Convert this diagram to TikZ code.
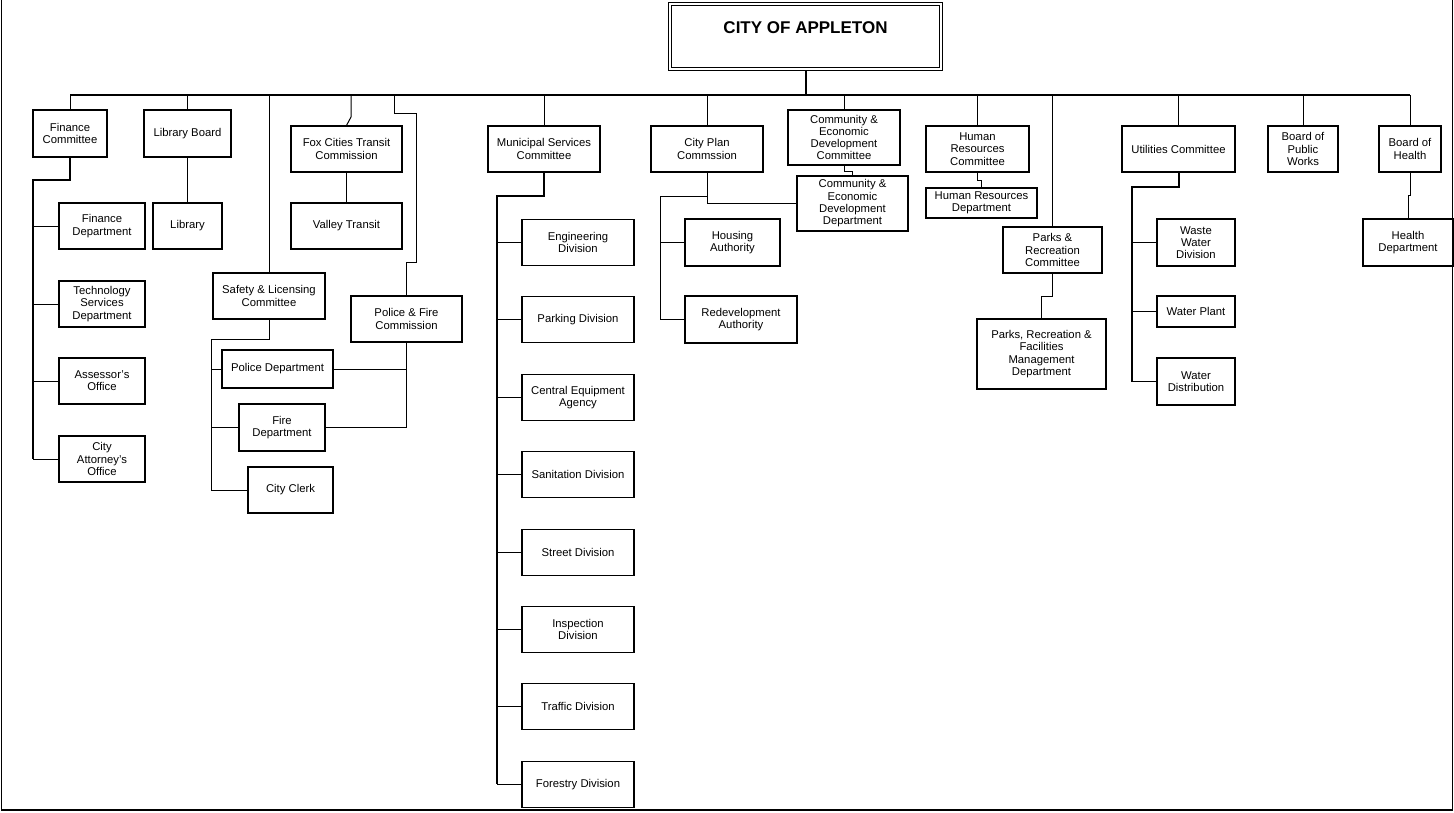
\documentclass[tikz,border=0pt]{standalone}
\usepackage{fontspec}
\setmainfont{Liberation Sans}
\tikzset{
  unit/.style={draw,line width=1.1pt,align=center,inner sep=1pt,
    font=\fontsize{11.3}{12.3}\selectfont},
  boxsize/.style 2 args={minimum width=#1pt,minimum height=#2pt},
  link/.style={line width=1pt},
  trunk/.style={line width=2pt},
}

\begin{document}
\begin{tikzpicture}[x=1pt,y=-1pt]
    \useasboundingbox (0,0) rectangle (1454,812);
    \draw[line width=1.5pt] (1.5,0) -- (1.5,810) -- (1452.5,810) -- (1452.5,0);

    % Head of the chart and the common bus.
    \node[draw,line width=1pt,minimum width=274pt,minimum height=68pt,
        inner sep=0pt,text height=12pt,text depth=18pt,
        font=\fontsize{17}{17}\selectfont\bfseries]
        (city) at (805.5,36.5) {CITY OF APPLETON};
    \draw[line width=1pt] ([shift={(3.5,3.5)}]city.north west)
        rectangle ([shift={(-3.5,-3.5)}]city.south east);
    \coordinate (busw) at (70,95);
    \coordinate (buse) at (1410,95);
    \draw[trunk] (busw) -- (buse);
    \draw[trunk] (city.south) -- (city.south |- busw);

    % Finance and library.
    \node[unit,boxsize={74}{47}] (fincom) at (70,133.5) {Finance\\Committee};
    \node[unit,boxsize={86}{46}] (findept) at (102,226) {Finance\\Department};
    \node[unit,boxsize={86}{46}] (techserv) at (102,304) {Technology\\Services\\Department};
    \node[unit,boxsize={86}{46}] (assessor) at (102,381) {Assessor's\\Office};
    \node[unit,boxsize={86}{46}] (attorney) at (102,459) {City\\Attorney's\\Office};
    \node[unit,boxsize={87}{47}] (libboard) at (187.5,133.5) {Library Board};
    \node[unit,boxsize={69}{46}] (library) at (187.5,226) {Library};

    \draw[link] (fincom.north |- busw) -- (fincom.north);
    \coordinate (finx) at (33,180);
    \draw[trunk] (fincom.south) |- (finx) -- (finx |- attorney.west);
    \draw[link] (finx |- findept.west) -- (findept.west);
    \draw[link] (finx |- techserv.west) -- (techserv.west);
    \draw[link] (finx |- assessor.west) -- (assessor.west);
    \draw[link] (finx |- attorney.west) -- (attorney.west);
    \draw[link] (libboard.north |- busw) -- (libboard.north);
    \draw[link] (libboard.south) -- (library.north);

    % Transit, safety, police and fire.
    \node[unit,boxsize={111}{46}] (fox) at (346.5,149) {Fox Cities Transit\\Commission};
    \node[unit,boxsize={111}{46}] (valley) at (346.5,226) {Valley Transit};
    \node[unit,boxsize={112}{46}] (safety) at (269,296) {Safety \& Licensing\\Committee};
    \node[unit,boxsize={111}{46}] (pfc) at (406.5,319) {Police \& Fire\\Commission};
    \node[unit,boxsize={111}{38}] (policedept) at (277.5,369) {Police Department};
    \node[unit,boxsize={86}{47}] (firedept) at (282,427.5) {Fire\\Department};
    \node[unit,boxsize={85}{46}] (clerk) at (290.5,490) {City Clerk};

    \coordinate (foxtap) at (351,95);
    \draw[link] (foxtap) -- ++(0,22) -- (fox.north);
    \draw[link] (fox.south) -- (valley.north);
    \draw[link] (safety.north |- busw) -- (safety.north);
    \coordinate (safex) at (211,339);
    \draw[link] (safety.south) |- (safex) -- (safex |- clerk.west) -- (clerk.west);
    \draw[link] (safex |- policedept.west) -- (policedept.west);
    \draw[link] (safex |- firedept.west) -- (firedept.west);
    \coordinate (pfctap) at (394,95);
    \draw[link] (pfctap) |- ++(22,18) -- ++(0,149) -| (pfc.north);
    \draw[link] (pfc.south) |- (firedept.east);
    \draw[link] (pfc.south |- policedept.east) -- (policedept.east);

    % Municipal services.
    \node[unit,boxsize={112}{46}] (muni) at (544,149) {Municipal Services\\Committee};
    \node[unit,boxsize={112}{46}] (engineering) at (578,242.5) {Engineering\\Division};
    \node[unit,boxsize={112}{46}] (parking) at (578,319.9) {Parking Division};
    \node[unit,boxsize={112}{46}] (equipment) at (578,397.3) {Central Equipment\\Agency};
    \node[unit,boxsize={112}{46}] (sanitation) at (578,474.7) {Sanitation Division};
    \node[unit,boxsize={112}{46}] (street) at (578,552.1) {Street Division};
    \node[unit,boxsize={112}{46}] (inspection) at (578,629.5) {Inspection\\Division};
    \node[unit,boxsize={112}{46}] (traffic) at (578,706.9) {Traffic Division};
    \node[unit,boxsize={112}{46}] (forestry) at (578,784.3) {Forestry Division};

    \draw[link] (muni.north |- busw) -- (muni.north);
    \coordinate (munix) at (497,196);
    \draw[trunk] (muni.south) |- (munix) -- (munix |- forestry.west);
    \draw[link] (munix |- engineering.west) -- (engineering.west);
    \draw[link] (munix |- parking.west) -- (parking.west);
    \draw[link] (munix |- equipment.west) -- (equipment.west);
    \draw[link] (munix |- sanitation.west) -- (sanitation.west);
    \draw[link] (munix |- street.west) -- (street.west);
    \draw[link] (munix |- inspection.west) -- (inspection.west);
    \draw[link] (munix |- traffic.west) -- (traffic.west);
    \draw[link] (munix |- forestry.west) -- (forestry.west);

    % City plan and community development.
    \node[unit,boxsize={112}{46}] (cpc) at (707,149) {City Plan\\Commssion};
    \node[unit,boxsize={95}{47}] (housing) at (732.5,242.5) {Housing\\Authority};
    \node[unit,boxsize={112}{47}] (redev) at (741,319.5) {Redevelopment\\Authority};
    \node[unit,boxsize={112}{55}] (cedcom) at (844,137.5)
        {Community \&\\Economic\\Development\\Committee};
    \node[unit,boxsize={111}{55}] (ceddept) at (852.5,203.5)
        {Community \&\\Economic\\Development\\Department};

    \draw[link] (cpc.north |- busw) -- (cpc.north);
    \draw[link] (cpc.south) |- (ceddept.west);
    \coordinate (cpcx) at (660,196);
    \draw[link] (cpc.south |- cpcx) -- (cpcx) -- (cpcx |- redev.west) -- (redev.west);
    \draw[link] (cpcx |- housing.west) -- (housing.west);
    \draw[link] (cedcom.north |- busw) -- (cedcom.north);
    \draw[link] (cedcom.south) -- ++(0,6) -| (ceddept.north);

    % Human resources and parks.
    \node[unit,boxsize={103}{46}] (hrcom) at (977.5,149) {Human\\Resources\\Committee};
    \node[unit,boxsize={111}{30}] (hrdept) at (981.5,203) {Human Resources\\Department};
    \node[unit,boxsize={99}{46}] (parkscom) at (1052.5,250) {Parks \&\\Recreation\\Committee};
    \node[unit,boxsize={129}{70}] (prfm) at (1041.5,354)
        {Parks, Recreation \&\\Facilities\\Management\\Department};

    \draw[link] (hrcom.north |- busw) -- (hrcom.north);
    \draw[link] (hrcom.south) -- ++(0,8) -| (hrdept.north);
    \draw[link] (parkscom.north |- busw) -- (parkscom.north);
    \draw[link] (parkscom.south) -- ++(0,23) -| (prfm.north);

    % Utilities, public works and health.
    \node[unit,boxsize={113}{46}] (utilcom) at (1178.5,149) {Utilities Committee};
    \node[unit,boxsize={78}{47}] (waste) at (1196,242.5) {Waste\\Water\\Division};
    \node[unit,boxsize={78}{31}] (plant) at (1196,311.5) {Water Plant};
    \node[unit,boxsize={78}{47}] (waterdist) at (1196,381.5) {Water\\Distribution};
    \node[unit,boxsize={70}{46}] (bpw) at (1303,149) {Board of\\Public\\Works};
    \node[unit,boxsize={62}{46}] (bohealth) at (1410,149) {Board of\\Health};
    \node[unit,boxsize={90}{47}] (healthdept) at (1408,242.5) {Health\\Department};

    \draw[link] (utilcom.north |- busw) -- (utilcom.north);
    \coordinate (utilx) at (1132,187);
    \draw[trunk] (utilcom.south) |- (utilx) -- (utilx |- waterdist.west);
    \draw[link] (utilx |- waste.west) -- (waste.west);
    \draw[link] (utilx |- plant.west) -- (plant.west);
    \draw[link] (utilx |- waterdist.west) -- (waterdist.west);
    \draw[link] (bpw.north |- busw) -- (bpw.north);
    \draw[link] (bohealth.north |- busw) -- (bohealth.north);
    \draw[link] (bohealth.south) -- ++(0,23) -| (healthdept.north);
\end{tikzpicture}
\end{document}
